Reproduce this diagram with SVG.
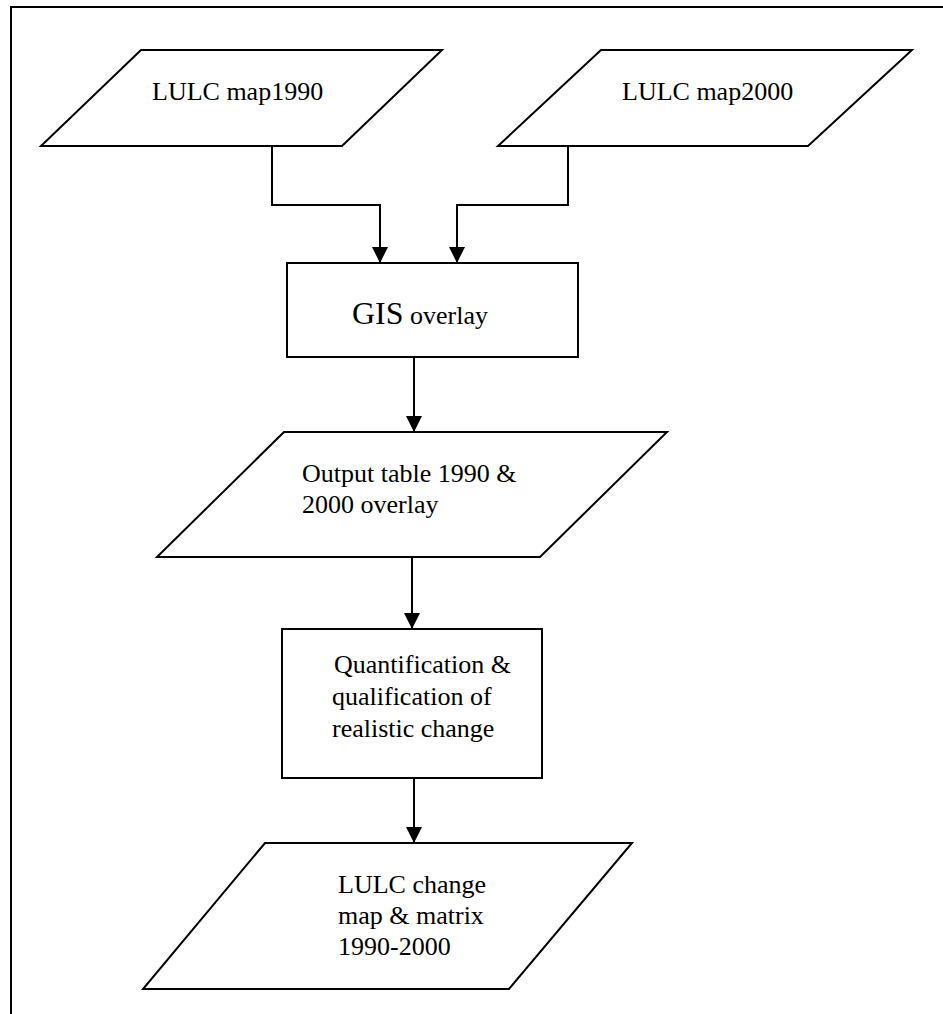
<svg xmlns="http://www.w3.org/2000/svg" width="943" height="1014" viewBox="0 0 943 1014">
<style>
.shape{fill:#fff;stroke:#000;stroke-width:2}
.conn{fill:none;stroke:#000;stroke-width:2}
.t{font-family:"Liberation Serif","Times New Roman",serif;font-size:26px;fill:#000}
.big{font-size:32px}
</style>
<defs>
<marker id="arr" markerUnits="userSpaceOnUse" markerWidth="16" markerHeight="16" refX="16" refY="8" orient="auto">
<path d="M0,0 L16,8 L0,16 Z" fill="#000"/>
</marker>
</defs>
<rect width="943" height="1014" fill="#fff"/>
<g id="frame">
<path class="conn" d="M11,1014 L11,7 L943,7"/>
</g>
<g id="connectors">
<path class="conn" d="M272,146 L272,205 L380,205 L380,263" marker-end="url(#arr)"/>
<path class="conn" d="M568,146 L568,205 L457,205 L457,263" marker-end="url(#arr)"/>
<path class="conn" d="M414,357 L414,432" marker-end="url(#arr)"/>
<path class="conn" d="M412,557 L412,629" marker-end="url(#arr)"/>
<path class="conn" d="M414,778 L414,843" marker-end="url(#arr)"/>
</g>
<g id="lulc1990">
<polygon class="shape" points="141,50 442,50 342,146 41,146"/>
<text class="t" x="152" y="100">LULC map1990</text>
</g>
<g id="lulc2000">
<polygon class="shape" points="601,50 912,50 808,146 498,146"/>
<text class="t" x="622" y="100">LULC map2000</text>
</g>
<g id="gis">
<rect class="shape" x="287" y="263" width="291" height="94"/>
<text class="t" x="352" y="324"><tspan class="big">GIS</tspan> overlay</text>
</g>
<g id="output">
<polygon class="shape" points="284,432 667,432 540,557 157,557"/>
<text class="t" x="302" y="482">Output table 1990 &amp;</text>
<text class="t" x="302" y="513">2000 overlay</text>
</g>
<g id="quant">
<rect class="shape" x="282" y="629" width="260" height="149"/>
<text class="t" x="334" y="673">Quantification &amp;</text>
<text class="t" x="332" y="705">qualification of</text>
<text class="t" x="332" y="737">realistic change</text>
</g>
<g id="change">
<polygon class="shape" points="265,843 632,843 509,989 143,989"/>
<text class="t" x="338" y="893">LULC change</text>
<text class="t" x="338" y="924">map &amp; matrix</text>
<text class="t" x="338" y="955">1990-2000</text>
</g>
</svg>
